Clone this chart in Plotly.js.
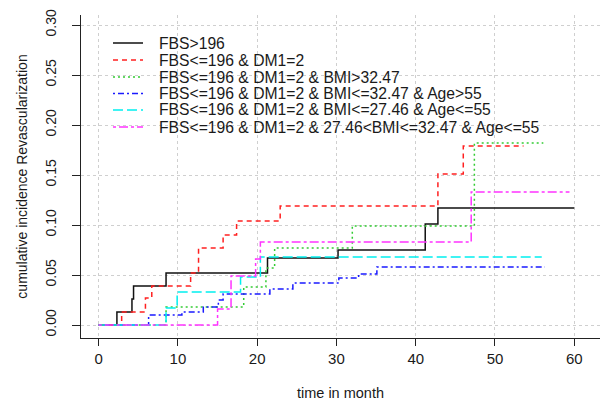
<!DOCTYPE html>
<html>
<head>
<meta charset="utf-8">
<script src="https://cdn.plot.ly/plotly-3.0.1.min.js"></script>
<style>html,body{margin:0;padding:0;background:#fff}#chart{width:600px;height:403px}</style>
</head>
<body>
<div id="chart"></div>
<script>
// Series names
const seriesNames = [
  "FBS>196",
  "FBS<=196 & DM1=2",
  "FBS<=196 & DM1=2 & BMI>32.47",
  "FBS<=196 & DM1=2 & BMI<=32.47 & Age>55",
  "FBS<=196 & DM1=2 & BMI<=27.46 & Age<=55",
  "FBS<=196 & DM1=2 & 27.46<BMI<=32.47 & Age<=55"
];
// Step times (month) and cumulative incidence values
const tBlack = [0, 2.3, 4.2, 4.4, 8.5, 21.3, 30.2, 41.2, 42.8, 60];
const vBlack = [0, 0.013, 0.026, 0.039, 0.052, 0.067, 0.075, 0.101, 0.117, 0.117];
const tRed = [0, 2.9, 5.9, 6.7, 11.6, 12.6, 15.7, 17.4, 22.9, 42.8, 46.0, 53.6];
const vRed = [0, 0.013, 0.027, 0.039, 0.052, 0.077, 0.090, 0.104, 0.119, 0.151, 0.179, 0.179];
const tGreen = [0, 8.5, 18.3, 21.1, 22.2, 32.0, 47.4, 56.1];
const vGreen = [0, 0.018, 0.038, 0.057, 0.077, 0.099, 0.182, 0.182];
const tBlue = [0, 6.3, 10.5, 13.2, 15.1, 15.7, 21.6, 24.5, 30.3, 32.8, 35.1, 56.3];
const vBlue = [0, 0.010, 0.013, 0.018, 0.025, 0.031, 0.036, 0.042, 0.047, 0.051, 0.058, 0.058];
const tCyan = [0, 8.5, 9.9, 17.9, 20.4, 55.9];
const vCyan = [0, 0.017, 0.033, 0.048, 0.068, 0.068];
const tMagenta = [0, 15.0, 16.7, 19.8, 20.4, 47.0, 59.4];
const vMagenta = [0, 0.016, 0.049, 0.066, 0.083, 0.133, 0.133];

const xTicks = [0, 10, 20, 30, 40, 50, 60];
const yTicks = [0, 0.05, 0.10, 0.15, 0.20, 0.25, 0.30];
const yTickText = ["0.00", "0.05", "0.10", "0.15", "0.20", "0.25", "0.30"];

const styles = [
  {color: "#111111", dash: "solid"},
  {color: "#ff2020", dash: "5px,4px"},
  {color: "#33cc33", dash: "2px,3px"},
  {color: "#1a1aff", dash: "2px,3px,6px,3px"},
  {color: "#00f0f0", dash: "10px,4px"},
  {color: "#ff33ff", dash: "3px,3px,9px,3px"}
];
const xs = [tBlack, tRed, tGreen, tBlue, tCyan, tMagenta];
const ys = [vBlack, vRed, vGreen, vBlue, vCyan, vMagenta];

const traces = seriesNames.map((n, i) => ({
  x: xs[i], y: ys[i], name: n, type: "scatter", mode: "lines",
  line: {shape: "hv", color: styles[i].color, dash: styles[i].dash, width: 1.5}
}));

const font = {family: "Liberation Sans, Arial, sans-serif", color: "#1a1a1a"};

// Layout geometry (pixels) for the hand-drawn legend
const W = 600, H = 403, ML = 81, MR = 0, MT = 15, MB = 65;
const PW = W - ML - MR, PH = H - MT - MB;
const px2x = px => (px - ML) / PW;
const px2y = py => (H - MB - py) / PH;
const legendRowY = [43, 60, 77, 93.5, 110, 127];
const legendLineX0 = 113, legendLineX1 = 143, legendTextX = 157;

const shapes = seriesNames.map((n, i) => ({
  type: "line", xref: "paper", yref: "paper",
  x0: px2x(legendLineX0), x1: px2x(legendLineX1),
  y0: px2y(legendRowY[i]), y1: px2y(legendRowY[i]),
  line: {color: styles[i].color, dash: styles[i].dash, width: 1.5}
}));
const annotations = seriesNames.map((n, i) => ({
  text: n, xref: "paper", yref: "paper",
  x: px2x(legendTextX), y: px2y(legendRowY[i]),
  xanchor: "left", yanchor: "middle", showarrow: false,
  font: Object.assign({size: 15.7}, font)
}));

const layout = {
  width: W, height: H,
  margin: {l: ML, r: MR, t: MT, b: MB},
  paper_bgcolor: "#ffffff", plot_bgcolor: "#ffffff",
  font: Object.assign({size: 14}, font),
  showlegend: false,
  shapes: shapes,
  annotations: annotations,
  xaxis: {
    range: [-2.23, 63.25],
    tickvals: xTicks, ticktext: xTicks.map(String),
    ticks: "outside", ticklen: 7, tickcolor: "#222", tickwidth: 1,
    ticklabelstandoff: 0,
    showline: true, linecolor: "#222", linewidth: 1, mirror: false,
    showgrid: true, gridcolor: "#cfcfcf", griddash: "dot", gridwidth: 1,
    zeroline: false,
    tickfont: Object.assign({size: 15}, font),
    title: {text: "time in month", font: Object.assign({size: 14.5}, font), standoff: 21}
  },
  yaxis: {
    range: [-0.013, 0.31],
    tickvals: yTicks, ticktext: yTickText,
    ticks: "outside", ticklen: 8, tickcolor: "#222", tickwidth: 1,
    tickangle: -90, ticklabelstandoff: 10,
    showline: true, linecolor: "#222", linewidth: 1, mirror: false,
    showgrid: true, gridcolor: "#cfcfcf", griddash: "dot", gridwidth: 1,
    zeroline: false,
    tickfont: Object.assign({size: 14}, font),
    title: {text: "cumulative incidence Revascularization", font: Object.assign({size: 14}, font), standoff: 12}
  }
};

Plotly.newPlot("chart", traces, layout, {staticPlot: true, displayModeBar: false});
</script>
</body>
</html>
